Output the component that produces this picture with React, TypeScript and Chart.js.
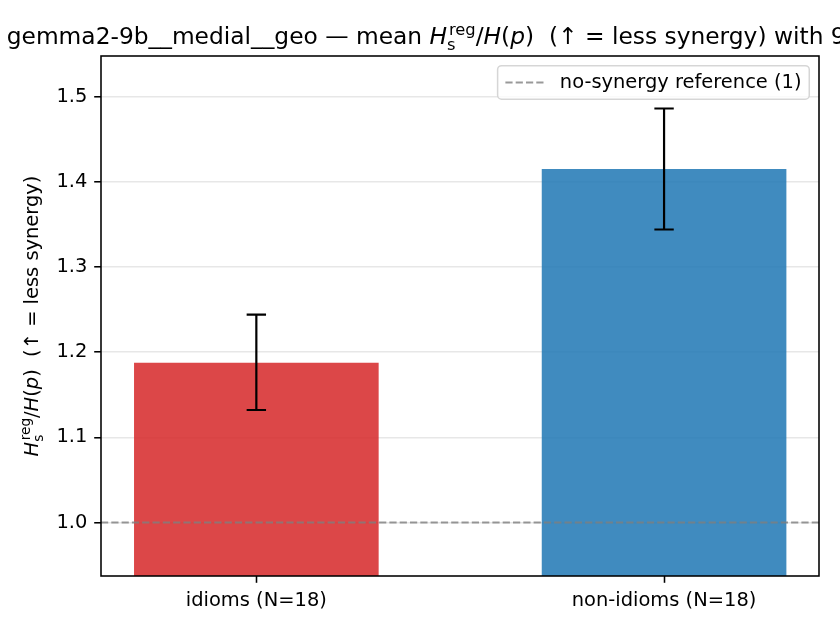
import React, { useEffect, useRef } from "react";
import { Chart, registerables } from "chart.js";

Chart.register(...registerables);

// ---- data ----
const categories = ["idioms (N=18)", "non-idioms (N=18)"];
const categoryPositions = [0, 1];
const meanRatio = [1.1876, 1.4149];
const ciLow = [1.132, 1.3439];
const ciHigh = [1.2439, 1.4859];
const yTicks = [1.0, 1.1, 1.2, 1.3, 1.4, 1.5];
const yLimits = [0.9372, 1.5475];
const xLimits = [-0.381, 1.38];
const referenceValue = 1;
const referenceLabel = "no-synergy reference (1)";
const titlePrefix = "gemma2-9b__medial__geo — mean ";
const titleSuffix = "  (↑ = less synergy) with 95% CI";
const ylabelSuffix = "  (↑ = less synergy)";

const FAMILY = '"DejaVu Sans", sans-serif';
const REF_COLOR = "rgba(128,128,128,0.8)";

type Run = { t: string; it?: boolean } | { sub: string; sup: string };

const ratioRuns: Run[] = [
  { t: "H", it: true },
  { sub: "s", sup: "reg" },
  { t: "/" },
  { t: "H", it: true },
  { t: "(" },
  { t: "p", it: true },
  { t: ")" },
];

function fontStr(size: number, it?: boolean) {
  return `${it ? "italic " : ""}${size}px ${FAMILY}`;
}

function runWidth(ctx: CanvasRenderingContext2D, r: Run, size: number) {
  if ("sub" in r) {
    ctx.font = fontStr(size * 0.7);
    return Math.max(ctx.measureText(r.sub).width, ctx.measureText(r.sup).width + size * 0.08);
  }
  ctx.font = fontStr(size, r.it);
  return ctx.measureText(r.t).width;
}

function totalWidth(ctx: CanvasRenderingContext2D, runs: Run[], size: number) {
  return runs.reduce((s, r) => s + runWidth(ctx, r, size), 0);
}

function drawRuns(ctx: CanvasRenderingContext2D, runs: Run[], x: number, y: number, size: number) {
  let cx = x;
  ctx.textAlign = "left";
  ctx.textBaseline = "alphabetic";
  for (const r of runs) {
    const w = runWidth(ctx, r, size);
    if ("sub" in r) {
      ctx.font = fontStr(size * 0.7);
      ctx.fillText(r.sub, cx, y + size * 0.26);
      ctx.fillText(r.sup, cx + size * 0.08, y - size * 0.42);
    } else {
      ctx.font = fontStr(size, r.it);
      ctx.fillText(r.t, cx, y);
    }
    cx += w;
  }
}

const overlayPlugin = {
  id: "overlay",
  afterDraw(chart: any) {
    const { ctx, chartArea: ca, scales } = chart;
    const x = scales.x;
    const y = scales.y;
    ctx.save();

    // error bars
    ctx.strokeStyle = "#000";
    ctx.lineWidth = 2.2;
    const cap = 9.7;
    categoryPositions.forEach((pos, i) => {
      const px = x.getPixelForValue(pos);
      const lo = y.getPixelForValue(ciLow[i]);
      const hi = y.getPixelForValue(ciHigh[i]);
      ctx.beginPath();
      ctx.moveTo(px, lo);
      ctx.lineTo(px, hi);
      ctx.moveTo(px - cap, lo);
      ctx.lineTo(px + cap, lo);
      ctx.moveTo(px - cap, hi);
      ctx.lineTo(px + cap, hi);
      ctx.stroke();
    });

    // frame
    ctx.strokeStyle = "#000";
    ctx.lineWidth = 1.56;
    ctx.strokeRect(ca.left, ca.top, ca.right - ca.left, ca.bottom - ca.top);

    // legend
    const fs = 19.44;
    ctx.font = fontStr(fs);
    const tw = ctx.measureText(referenceLabel).width;
    const pad = 0.4 * fs;
    const handle = 2 * fs;
    const gap = 0.8 * fs;
    const bw = pad + handle + gap + tw + pad;
    const bh = 33.5;
    const right = ca.right - 0.5 * fs;
    const top = ca.top + 0.5 * fs;
    const left = right - bw;
    ctx.beginPath();
    if ((ctx as any).roundRect) (ctx as any).roundRect(left, top, bw, bh, 4);
    else ctx.rect(left, top, bw, bh);
    ctx.fillStyle = "rgba(255,255,255,0.8)";
    ctx.fill();
    ctx.strokeStyle = "rgba(204,204,204,0.8)";
    ctx.lineWidth = 1.5;
    ctx.stroke();
    const cy = top + bh / 2;
    ctx.beginPath();
    ctx.setLineDash([7.2, 3.1]);
    ctx.strokeStyle = REF_COLOR;
    ctx.lineWidth = 1.94;
    ctx.moveTo(left + pad, cy);
    ctx.lineTo(left + pad + handle, cy);
    ctx.stroke();
    ctx.setLineDash([]);
    ctx.fillStyle = "#000";
    ctx.font = fontStr(fs);
    ctx.textAlign = "left";
    ctx.textBaseline = "middle";
    ctx.fillText(referenceLabel, left + pad + handle + gap, cy);

    // title
    const ts = 23.33;
    const titleRuns: Run[] = [{ t: titlePrefix }, ...ratioRuns, { t: titleSuffix }];
    const ttw = totalWidth(ctx, titleRuns, ts);
    ctx.fillStyle = "#000";
    drawRuns(ctx, titleRuns, (ca.left + ca.right) / 2 - ttw / 2, ca.top - 11.7, ts);

    // y label
    const ys = 19.44;
    const ylRuns: Run[] = [...ratioRuns, { t: ylabelSuffix }];
    const ylw = totalWidth(ctx, ylRuns, ys);
    ctx.save();
    ctx.translate(38, (ca.top + ca.bottom) / 2);
    ctx.rotate(-Math.PI / 2);
    drawRuns(ctx, ylRuns, -ylw / 2, 0, ys);
    ctx.restore();

    ctx.restore();
  },
};

export default function App() {
  const ref = useRef<HTMLCanvasElement | null>(null);

  useEffect(() => {
    if (!ref.current) return;
    const tickFont = { family: FAMILY, size: 19.44 };
    const chart = new Chart(ref.current, {
      type: "bar",
      data: {
        datasets: [
          {
            type: "bar",
            label: "mean",
            data: categoryPositions.map((xv, i) => ({ x: xv, y: meanRatio[i] })),
            backgroundColor: ["rgba(214,39,40,0.85)", "rgba(31,119,180,0.85)"],
            borderWidth: 0,
            barPercentage: 0.6,
            categoryPercentage: 1,
            order: 1,
          } as any,
          {
            type: "line",
            label: referenceLabel,
            data: xLimits.map((xv) => ({ x: xv, y: referenceValue })),
            borderColor: REF_COLOR,
            borderWidth: 1.94,
            borderDash: [7.2, 3.1],
            pointRadius: 0,
            fill: false,
            tension: 0,
            order: 0,
          } as any,
        ],
      },
      options: {
        animation: false,
        responsive: true,
        maintainAspectRatio: false,
        layout: { padding: { top: 56, right: 21, left: 0, bottom: 0 } },
        plugins: {
          legend: { display: false },
          tooltip: { enabled: false },
          title: { display: false },
        },
        scales: {
          x: {
            type: "linear",
            min: xLimits[0],
            max: xLimits[1],
            offset: false,
            afterBuildTicks: (s: any) => {
              s.ticks = categoryPositions.map((v) => ({ value: v }));
            },
            afterFit: (s: any) => {
              s.height = 54;
            },
            ticks: {
              callback: (v: any) => {
                const i = categoryPositions.indexOf(Number(v));
                return i >= 0 ? categories[i] : "";
              },
              autoSkip: false,
              maxRotation: 0,
              font: tickFont,
              color: "#000",
              padding: 6,
            },
            grid: {
              display: true,
              offset: false,
              drawOnChartArea: false,
              drawTicks: true,
              tickLength: 6.8,
              tickColor: "#000",
              tickWidth: 1.56,
              color: "rgba(0,0,0,0)",
            },
            border: { display: false },
          } as any,
          y: {
            type: "linear",
            min: yLimits[0],
            max: yLimits[1],
            z: 1,
            afterBuildTicks: (s: any) => {
              s.ticks = yTicks.map((v) => ({ value: v }));
            },
            afterFit: (s: any) => {
              s.width = 101;
            },
            ticks: {
              callback: (v: any) => Number(v).toFixed(1),
              font: tickFont,
              color: "#000",
              padding: 6.8,
            },
            grid: {
              color: "rgba(176,176,176,0.3)",
              lineWidth: 1.56,
              drawTicks: true,
              tickLength: 6.8,
              tickColor: "#000",
              tickWidth: 1.56,
            },
            border: { display: false },
          } as any,
        },
      },
      plugins: [overlayPlugin],
    });
    return () => chart.destroy();
  }, []);

  return (
    <div style={{ position: "absolute", left: 0, top: 0, width: 840, height: 630, background: "#fff" }}>
      <canvas ref={ref} style={{ display: "block" }} />
    </div>
  );
}
